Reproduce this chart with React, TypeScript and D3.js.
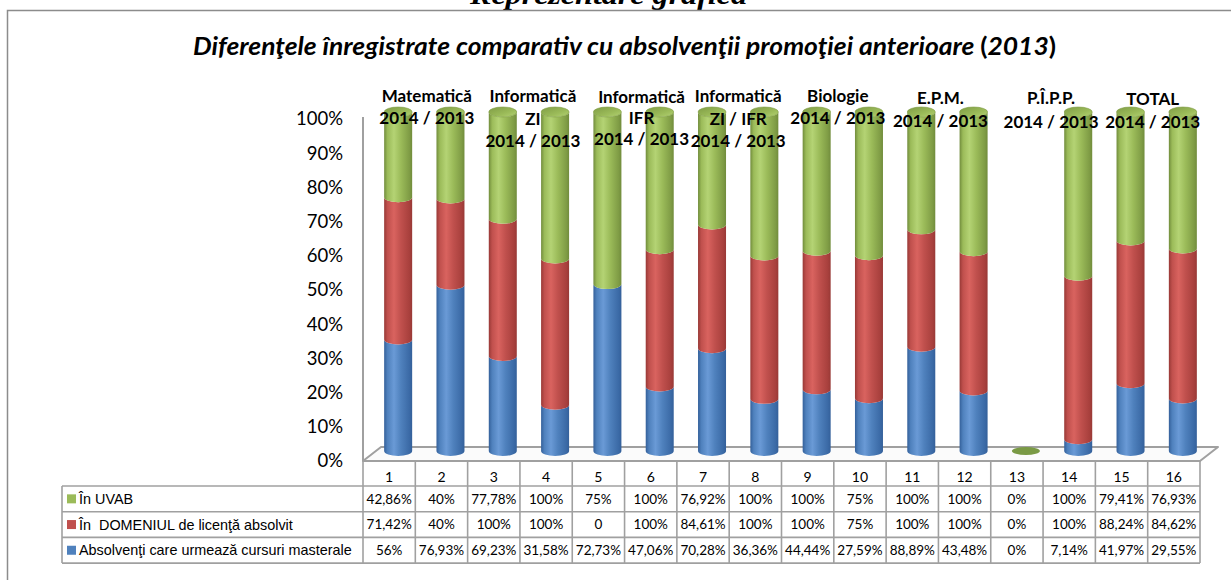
import React from "react";
import * as d3 from "d3";

// ---------- DATA ----------
const categories = ["1", "2", "3", "4", "5", "6", "7", "8", "9", "10", "11", "12", "13", "14", "15", "16"];
const seriesKeys = ["masterale", "domeniu", "uvab"];
const seriesNames = [
  "Absolvenţi care urmează cursuri masterale",
  "În  DOMENIUL de licenţă absolvit",
  "În UVAB",
];
const masterale = [56, 76.93, 69.23, 31.58, 72.73, 47.06, 70.28, 36.36, 44.44, 27.59, 88.89, 43.48, 0, 7.14, 41.97, 29.55];
const domeniu = [71.42, 40, 100, 100, 0, 100, 84.61, 100, 100, 75, 100, 100, 0, 100, 88.24, 84.62];
const uvab = [42.86, 40, 77.78, 100, 75, 100, 76.92, 100, 100, 75, 100, 100, 0, 100, 79.41, 76.93];
const masteraleLabels = ["56%", "76,93%", "69,23%", "31,58%", "72,73%", "47,06%", "70,28%", "36,36%", "44,44%", "27,59%", "88,89%", "43,48%", "0%", "7,14%", "41,97%", "29,55%"];
const domeniuLabels = ["71,42%", "40%", "100%", "100%", "0", "100%", "84,61%", "100%", "100%", "75%", "100%", "100%", "0%", "100%", "88,24%", "84,62%"];
const uvabLabels = ["42,86%", "40%", "77,78%", "100%", "75%", "100%", "76,92%", "100%", "100%", "75%", "100%", "100%", "0%", "100%", "79,41%", "76,93%"];
const groupLines = [
  ["Matematică", "2014 / 2013"],
  ["Informatică", "ZI", "2014 / 2013"],
  ["Informatică", "IFR", "2014 / 2013"],
  ["Informatică", "ZI / IFR", "2014 / 2013"],
  ["Biologie", "2014 / 2013"],
  ["E.P.M.", "2014 / 2013"],
  ["P.Î.P.P.", "2014 / 2013"],
  ["TOTAL", "2014 / 2013"],
];
const yTicks = [0, 0.1, 0.2, 0.3, 0.4, 0.5, 0.6, 0.7, 0.8, 0.9, 1];

// ---------- LAYOUT ----------
const W = 1231, H = 580;
const plotL = 363, plotR = 1200;
const yFront = d3.scaleLinear().domain([0, 1]).range([461, 119]);
const yBar = d3.scaleLinear().domain([0, 1]).range([451, 112]);
const depth = { dx: 18, dy: -14 };
const barShift = 9;
const rx = 14, ry = 5;
// manual nudges for the group-label text boxes
const labelNudge = [
  { dx: 2.5, y: 102, lh: 22 },
  { dx: 4, y: 102, lh: 22.5 },
  { dx: 8, y: 103, lh: 21 },
  { dx: 0, y: 102, lh: 22.5 },
  { dx: -5, y: 102, lh: 22 },
  { dx: -7, y: 104, lh: 23 },
  { dx: -1, y: 104, lh: 24 },
  { dx: -4, y: 105, lh: 23 },
];

const colors: Record<string, { dark: string; light: string; base: string; edge: string }> = {
  masterale: { dark: "#3b6aa6", light: "#6a9ad6", base: "#4f81bd", edge: "#34609a" },
  domeniu: { dark: "#a8403d", light: "#d9635f", base: "#c0504d", edge: "#983936" },
  uvab: { dark: "#7f9c45", light: "#b4d374", base: "#9bbb59", edge: "#718c3c" },
};
const tableCols = [
  { name: seriesNames[2], color: "#9bbb59", labels: uvabLabels },
  { name: seriesNames[1], color: "#c0504d", labels: domeniuLabels },
  { name: seriesNames[0], color: "#4f81bd", labels: masteraleLabels },
];

export default function App() {
  const x = d3.scaleBand().domain(categories).range([plotL, plotR]).padding(0);
  const rows = categories.map((c, i) => ({ cat: c, masterale: masterale[i], domeniu: domeniu[i], uvab: uvab[i] }));
  const stack = d3.stack<any>().keys(seriesKeys).offset(d3.stackOffsetExpand);
  const stacked = stack(rows);

  const cx = (c: string) => (x(c) as number) + x.bandwidth() / 2 + barShift;

  const segPath = (c: string, y0: number, y1: number) => {
    const L = cx(c) - rx, R = cx(c) + rx;
    return `M${L},${y1} A${rx},${ry} 0 0 0 ${R},${y1} L${R},${y0} A${rx},${ry} 0 0 1 ${L},${y0} Z`;
  };

  const bars: React.ReactNode[] = [];
  categories.forEach((c, i) => {
    let topKey: string | null = null;
    let topVal = 0;
    stacked.forEach((s) => {
      const d = s[i];
      if (!(d[1] - d[0] > 0)) return;
      topKey = s.key;
      topVal = d[1];
      bars.push(
        <path key={`${c}-${s.key}`} d={segPath(c, yBar(d[0]), yBar(d[1]))} fill={`url(#g-${s.key})`} />
      );
    });
    if (topKey) {
      bars.push(
        <ellipse key={`${c}-cap`} cx={cx(c)} cy={yBar(topVal)} rx={rx} ry={ry}
          fill={`url(#cap-${topKey})`} stroke={colors[topKey].dark} strokeWidth={0.6} />
      );
    } else {
      bars.push(
        <ellipse key={`${c}-flat`} cx={cx(c)} cy={yBar(0)} rx={rx} ry={ry - 1} fill="#7a9a45" />
      );
    }
  });

  const tableTop = 461, hdrBottom = 486, rowH = 25.7;
  const legendL = 62;
  const rowYs = [hdrBottom, hdrBottom + rowH, hdrBottom + 2 * rowH, hdrBottom + 3 * rowH];
  const gridStroke = "#a0a0a0";

  const calibri = "Lato, 'Open Sans', sans-serif";

  return (
    <svg width={W} height={H} style={{ position: "absolute", left: 0, top: 0, background: "#fff" }}>
      <defs>
        {seriesKeys.map((k) => (
          <linearGradient key={k} id={`g-${k}`} x1="0" x2="1" y1="0" y2="0">
            <stop offset="0" stopColor={colors[k].edge} />
            <stop offset="0.12" stopColor={colors[k].base} />
            <stop offset="0.35" stopColor={colors[k].light} />
            <stop offset="0.6" stopColor={colors[k].base} />
            <stop offset="0.9" stopColor={colors[k].dark} />
            <stop offset="1" stopColor={colors[k].edge} />
          </linearGradient>
        ))}
        {seriesKeys.map((k) => (
          <linearGradient key={`c${k}`} id={`cap-${k}`} x1="0" x2="1" y1="0" y2="1">
            <stop offset="0" stopColor={colors[k].dark} />
            <stop offset="0.6" stopColor={colors[k].base} />
            <stop offset="1" stopColor={colors[k].light} />
          </linearGradient>
        ))}
      </defs>

      {/* page header (cut off at the top, as in the source page) */}
      <text x={470} y={3.5} fontFamily="'Liberation Serif', 'Times New Roman', serif" fontWeight="bold"
        fontStyle="italic" fontSize={27} textLength={277} lengthAdjust="spacingAndGlyphs">Reprezentare grafică</text>

      {/* outer frame */}
      <rect x={7.5} y={10.5} width={1260} height={620} fill="none" stroke="#8c8c8c" strokeWidth={1.5} />

      {/* chart title */}
      <text x={193} y={55} fontFamily={calibri} fontWeight="bold" fontSize={24}
        textLength={863} lengthAdjust="spacingAndGlyphs">
        <tspan fontStyle="italic">Diferenţele înregistrate comparativ cu absolvenţii promoţiei anterioare </tspan>
        <tspan>(</tspan>
        <tspan fontStyle="italic">2013</tspan>
        <tspan>)</tspan>
      </text>

      {/* y axis labels */}
      {yTicks.map((t) => (
        <text key={t} x={343} y={yFront(t)} dy="0.35em" textAnchor="end" fontFamily={calibri}
          fontSize={18.5} fill="#000">{d3.format(".0%")(t)}</text>
      ))}

      {/* left wall edge */}
      <line x1={plotL} x2={plotL} y1={yFront(1) - 2} y2={yFront(0)} stroke={gridStroke} strokeWidth={2} />

      {/* floor */}
      <polygon
        points={[
          [plotL, yFront(0)],
          [plotL + depth.dx, yFront(0) + depth.dy],
          [plotR + depth.dx, yFront(0) + depth.dy],
          [plotR, yFront(0)],
        ].map((p) => p.join(",")).join(" ")}
        fill="#fbfbfb" stroke={gridStroke} strokeWidth={2} strokeLinejoin="round"
      />

      {/* bars */}
      {bars}

      {/* group labels */}
      {groupLines.map((lines, gi) => {
        const c0 = categories[gi * 2], c1 = categories[gi * 2 + 1];
        const gx = (cx(c0) + cx(c1)) / 2 + labelNudge[gi].dx;
        return (
          <text key={gi} textAnchor="middle" fontFamily={calibri} fontWeight="bold" fontSize={17} fill="#000">
            {lines.map((ln, li) => (
              <tspan key={li} x={gx} y={labelNudge[gi].y + li * labelNudge[gi].lh}>{ln}</tspan>
            ))}
          </text>
        );
      })}

      {/* data table */}
      <g>
        {categories.map((c) => (
          <line key={`v${c}`} x1={x(c)} x2={x(c)} y1={tableTop} y2={rowYs[3]} stroke={gridStroke} strokeWidth={1.6} />
        ))}
        <line x1={plotR} x2={plotR} y1={tableTop} y2={rowYs[3]} stroke={gridStroke} strokeWidth={1.6} />
        <line x1={legendL} x2={legendL} y1={rowYs[0]} y2={rowYs[3]} stroke={gridStroke} strokeWidth={1.6} />
        {rowYs.map((ry0, i) => (
          <line key={`h${i}`} x1={legendL} x2={plotR} y1={ry0} y2={ry0} stroke={gridStroke} strokeWidth={1.6} />
        ))}
        {categories.map((c) => (
          <text key={`n${c}`} x={(x(c) as number) + x.bandwidth() / 2} y={482} textAnchor="middle"
            fontFamily={calibri} fontSize={14}>{c}</text>
        ))}
        {tableCols.map((row, ri) => {
          const yc = (rowYs[ri] + rowYs[ri + 1]) / 2;
          return (
            <g key={`r${ri}`}>
              <rect x={67} y={yc - 4.5} width={9} height={9} fill={row.color} />
              <text x={79} y={yc} dy="0.35em" fontFamily="'Liberation Sans', Arial, sans-serif" fontSize={14.4}
                style={{ whiteSpace: "pre" }}>{row.name}</text>
              {categories.map((c, ci) => (
                <text key={c} x={(x(c) as number) + x.bandwidth() / 2} y={yc} dy="0.36em" textAnchor="middle"
                  fontFamily={calibri} fontSize={13.5}>{row.labels[ci]}</text>
              ))}
            </g>
          );
        })}
      </g>
    </svg>
  );
}
